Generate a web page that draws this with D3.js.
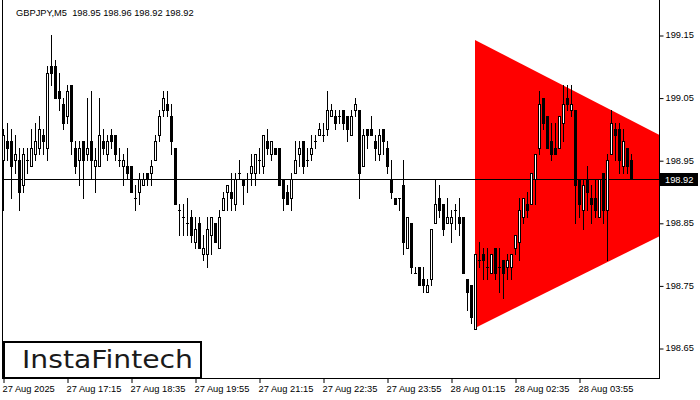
<!DOCTYPE html>
<html><head><meta charset="utf-8">
<script src="https://cdn.jsdelivr.net/npm/d3@7"></script>
<style>html,body{margin:0;padding:0;background:#fff;overflow:hidden}</style>
</head><body>
<svg id="c" width="700" height="400"></svg>
<script>
const title = "GBPJPY,M5  198.95 198.96 198.92 198.92";
const opens = [198.95,198.98,198.98,198.95,198.95,198.91,198.95,198.94,198.96,198.97,198.99,198.97,199.10,199.10,199.06,199.04,199.02,199.07,198.97,198.95,198.98,198.96,198.98,198.94,198.94,198.98,198.96,198.99,198.99,198.95,198.94,198.94,198.94,198.89,198.90,198.91,198.93,198.93,198.95,198.99,199.03,199.04,199.02,198.97,198.87,198.86,198.85,198.86,198.82,198.85,198.80,198.80,198.83,198.85,198.81,198.87,198.90,198.90,198.88,198.93,198.92,198.92,198.93,198.93,198.95,198.94,198.98,198.96,198.97,198.97,198.92,198.90,198.89,198.93,198.96,198.98,198.95,198.96,198.98,198.99,198.99,199.00,199.02,199.02,199.02,199.03,199.02,198.99,199.03,199.03,198.94,199.00,199.00,198.98,198.96,199.00,198.97,198.92,198.89,198.89,198.91,198.81,198.85,198.77,198.78,198.76,198.74,198.76,198.85,198.89,198.88,198.85,198.85,198.87,198.86,198.86,198.76,198.75,198.68,198.79,198.80,198.78,198.77,198.81,198.78,198.79,198.78,198.78,198.81,198.82,198.86,198.88,198.88,198.92,198.97,199.05,199.02,198.98,198.97,198.97,199.01,199.05,199.03,199.03,198.92,198.87,198.92,198.89,198.89,198.86,198.93,198.87,198.96,199.00,199.00,198.94,198.97,198.95];
const highs = [199.00,199.01,199.00,198.99,198.97,198.97,198.97,199.00,199.01,199.02,199.00,199.10,199.15,199.11,199.09,199.05,199.07,199.07,198.98,198.98,198.98,199.05,199.06,198.97,199.05,199.00,198.99,199.00,198.99,198.97,198.96,198.97,198.94,198.91,198.93,198.93,198.93,198.95,198.99,199.03,199.06,199.06,199.04,198.97,198.88,198.88,198.89,198.87,198.86,198.86,198.83,198.86,198.86,198.85,198.87,198.90,198.91,198.93,198.93,198.95,198.92,198.93,198.96,198.96,198.97,198.99,199.00,198.98,198.97,198.97,198.92,198.91,198.93,198.98,198.98,198.98,198.97,198.99,198.99,199.01,199.01,199.06,199.04,199.03,199.03,199.03,199.02,199.03,199.05,199.03,199.00,199.00,199.02,198.99,199.00,199.00,198.98,198.95,198.89,198.89,198.95,198.86,198.85,198.78,198.78,198.78,198.76,198.84,198.92,198.91,198.88,198.89,198.87,198.88,198.89,198.86,198.76,198.75,198.80,198.82,198.81,198.81,198.80,198.81,198.81,198.79,198.80,198.80,198.83,198.89,198.89,198.90,198.93,198.96,199.06,199.05,199.02,199.01,199.01,199.02,199.07,199.07,199.07,199.03,198.92,198.92,198.94,198.91,198.92,198.92,198.93,198.96,199.03,199.01,199.01,199.00,198.97,198.96];
const lows = [198.87,198.95,198.89,198.93,198.87,198.90,198.93,198.94,198.95,198.96,198.96,198.95,199.07,199.05,199.03,199.00,199.01,198.96,198.93,198.91,198.89,198.95,198.92,198.90,198.94,198.96,198.95,198.97,198.95,198.94,198.91,198.92,198.90,198.87,198.88,198.91,198.91,198.91,198.95,198.98,199.02,199.02,198.96,198.88,198.83,198.83,198.83,198.82,198.81,198.81,198.79,198.78,198.80,198.82,198.81,198.87,198.87,198.87,198.87,198.92,198.88,198.90,198.91,198.91,198.93,198.93,198.96,198.95,198.96,198.91,198.87,198.88,198.87,198.93,198.94,198.93,198.94,198.95,198.97,198.99,198.98,198.99,199.02,199.00,199.01,199.00,198.98,198.99,199.02,198.89,198.94,198.97,198.99,198.95,198.95,198.96,198.93,198.89,198.88,198.87,198.80,198.81,198.77,198.77,198.75,198.74,198.74,198.75,198.85,198.86,198.83,198.85,198.82,198.84,198.83,198.77,198.71,198.69,198.68,198.78,198.76,198.76,198.77,198.76,198.74,198.73,198.76,198.76,198.80,198.79,198.85,198.86,198.88,198.88,198.96,199.00,198.97,198.95,198.96,198.97,198.98,199.03,199.02,198.85,198.86,198.84,198.87,198.85,198.86,198.86,198.85,198.79,198.96,198.95,198.93,198.93,198.93,198.92];
const closes = [198.99,198.97,198.94,198.96,198.90,198.96,198.95,198.97,198.98,199.00,198.98,199.09,199.09,199.05,199.05,199.01,199.06,198.98,198.94,198.97,198.95,198.97,198.95,198.95,198.99,198.97,198.98,198.98,198.96,198.95,198.95,198.93,198.90,198.89,198.92,198.92,198.92,198.94,198.98,199.02,199.05,199.03,198.98,198.88,198.87,198.86,198.85,198.83,198.84,198.81,198.81,198.84,198.86,198.82,198.86,198.89,198.91,198.89,198.92,198.93,198.91,198.92,198.94,198.96,198.95,198.99,198.97,198.98,198.96,198.91,198.89,198.88,198.92,198.95,198.97,198.94,198.95,198.97,198.98,199.00,198.99,199.03,199.03,199.01,199.02,199.01,199.00,199.02,199.04,198.93,198.99,198.99,198.99,198.97,198.99,198.98,198.94,198.90,198.88,198.89,198.82,198.86,198.78,198.77,198.75,198.75,198.75,198.84,198.88,198.87,198.84,198.86,198.86,198.87,198.85,198.77,198.74,198.70,198.80,198.79,198.79,198.78,198.80,198.77,198.78,198.77,198.79,198.80,198.83,198.87,198.89,198.87,198.93,198.96,199.04,199.01,198.97,198.96,198.96,199.02,199.04,199.04,199.04,198.91,198.88,198.91,198.90,198.88,198.87,198.92,198.87,198.95,199.01,198.99,198.95,198.98,198.94,198.92];
const xTickIndex = [0,16,32,48,64,80,96,112,128,144];
const xTickLabels = ["27 Aug 2025","27 Aug 17:15","27 Aug 18:35","27 Aug 19:55","27 Aug 21:15","27 Aug 22:35","27 Aug 23:55","28 Aug 01:15","28 Aug 02:35","28 Aug 03:55"];
const yTicks = [198.65,198.75,198.85,198.95,199.05,199.15];
const lastPrice = 198.92;
// symmetric triangle pattern: top-left, apex, bottom-left (bar index, price)
const patternIndex = [118, 189.1, 118];
const patternPrice = [199.142, 198.908, 198.682];
const brand = "InstaFintech";

const svg = d3.select("#c");
const FONT = "'Liberation Sans', Arial, sans-serif";
const x = d3.scaleLinear().domain([0, 157]).range([3.5, 631.5]);
const y = d3.scaleLinear().domain([198.65, 199.15]).range([348, 35]);
const py = v => Math.round(y(v));
const plotRight = 659, plotBottom = 379;

svg.append("defs").append("clipPath").attr("id","plot")
  .append("rect").attr("x",0).attr("y",0).attr("width",plotRight).attr("height",plotBottom);

// pattern
const pts = patternIndex.map((d,i)=>[x(d)-0.5, y(patternPrice[i])]);
svg.append("path").attr("clip-path","url(#plot)")
  .attr("d", d3.line()(pts) + "Z").attr("fill","#ff0000");

// price line
svg.append("rect").attr("x",2).attr("y",py(lastPrice)).attr("width",plotRight-2).attr("height",1).attr("fill","#000");

// candles
const g = svg.append("g").attr("clip-path","url(#plot)");
opens.forEach((o,i)=>{
  const c = closes[i], h = highs[i], l = lows[i];
  const cx = x(i);
  g.append("rect").attr("x",cx-0.5).attr("y",py(h)).attr("width",1).attr("height",py(l)-py(h)+1).attr("fill","#000");
  const top = py(Math.max(o,c)), bot = py(Math.min(o,c));
  if (c > o && bot - top >= 1) {
    g.append("rect").attr("x",cx-1).attr("y",top+0.5).attr("width",2).attr("height",bot-top)
      .attr("fill","#fff").attr("stroke","#000").attr("stroke-width",1);
  } else {
    g.append("rect").attr("x",cx-1.5).attr("y",top).attr("width",3).attr("height",bot-top+1).attr("fill","#000");
  }
});

// frame
svg.append("rect").attr("x",2).attr("y",0).attr("width",1).attr("height",plotBottom).attr("fill","#000");
svg.append("rect").attr("x",2).attr("y",plotBottom-1).attr("width",plotRight-1).attr("height",1).attr("fill","#000");
svg.append("rect").attr("x",plotRight).attr("y",0).attr("width",1).attr("height",plotBottom).attr("fill","#000");

// y axis
const ya = svg.append("g").attr("transform",`translate(${plotRight+0.5},0)`)
  .call(d3.axisRight(y).tickValues(yTicks).tickSize(4).tickPadding(2).tickFormat(d3.format(".2f")));
ya.select(".domain").remove();
ya.selectAll("line").attr("stroke","#000").attr("transform","translate(0,0.5)");
ya.selectAll("text").attr("font-family",FONT).attr("font-size","9.3px").attr("fill","#000");

// x axis
const xa = svg.append("g").attr("transform",`translate(0,${plotBottom})`)
  .call(d3.axisBottom(x).tickValues(xTickIndex).tickSize(4).tickFormat((d,i)=>xTickLabels[i]));
xa.select(".domain").remove();
xa.selectAll("line").attr("stroke","#000");
xa.selectAll("text").attr("font-family",FONT).attr("font-size","9.3px").attr("fill","#000")
  .attr("text-anchor","start").attr("dx",-1.5).attr("y",6).attr("dy","0.71em");

// current price box
svg.append("rect").attr("x",plotRight+1).attr("y",py(lastPrice)-6).attr("width",38).attr("height",13).attr("fill","#000");
svg.append("text").attr("x",plotRight+6).attr("y",py(lastPrice)+4).attr("font-family",FONT).attr("font-size","9.3px")
  .attr("fill","#fff").text(d3.format(".2f")(lastPrice));

// title
svg.append("text").attr("x",16).attr("y",16).attr("font-family",FONT).attr("font-size","9.3px").attr("fill","#000")
  .attr("xml:space","preserve").style("white-space","pre").text(title);

// brand box
svg.append("rect").attr("x",4).attr("y",342).attr("width",197).attr("height",36)
  .attr("fill","#fff").attr("stroke","#000").attr("stroke-width",2);
svg.append("text").attr("x",22).attr("y",368).attr("font-family","'DejaVu Sans', 'Noto Sans', sans-serif").attr("font-weight",500)
  .attr("font-size","24px").attr("fill","#1a1a1a").attr("textLength",171).attr("lengthAdjust","spacingAndGlyphs").text(brand);
</script>
</body></html>
